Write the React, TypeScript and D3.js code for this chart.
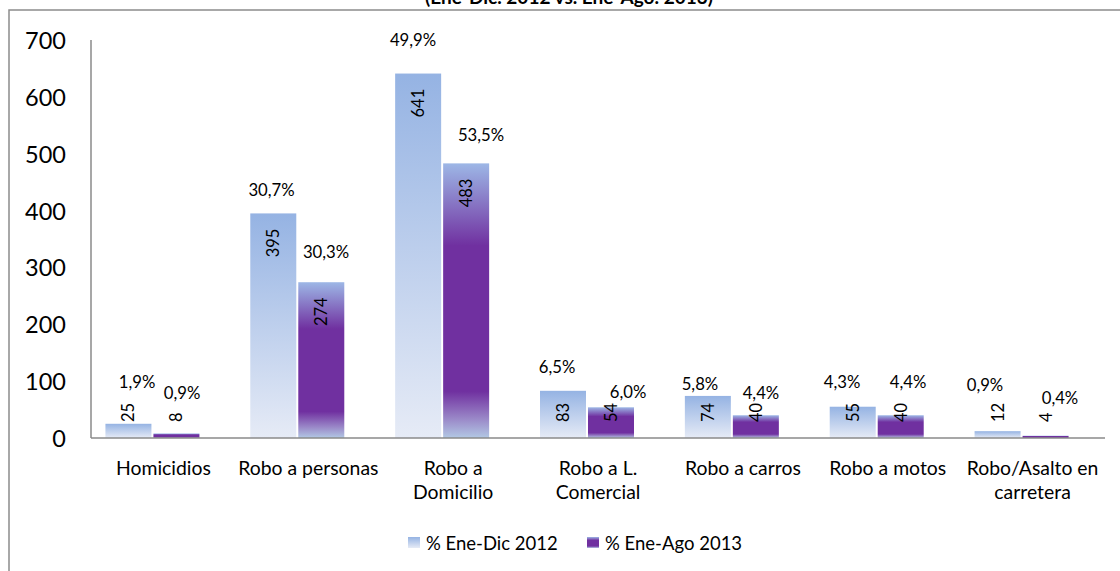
import React from "react";
import * as d3 from "d3";

const categories = [
  ["Homicidios"],
  ["Robo a personas"],
  ["Robo a", "Domicilio"],
  ["Robo a L.", "Comercial"],
  ["Robo a carros"],
  ["Robo a motos"],
  ["Robo/Asalto en", "carretera"],
];
const values2012 = [25, 395, 641, 83, 74, 55, 12];
const values2013 = [8, 274, 483, 54, 40, 40, 4];
const pct2012 = ["1,9%", "30,7%", "49,9%", "6,5%", "5,8%", "4,3%", "0,9%"];
const pct2013 = ["0,9%", "30,3%", "53,5%", "6,0%", "4,4%", "4,4%", "0,4%"];
const seriesNames = ["% Ene-Dic 2012", "% Ene-Ago 2013"];
const yTicks = [0, 100, 200, 300, 400, 500, 600, 700];
const title = "(Ene-Dic. 2012 vs. Ene-Ago. 2013)";

// layout nudges for the manually placed percentage labels (px, relative to bar centre / bar top)
const pctNudge2012 = [[8.6, -41.8], [-1.8, -23.4], [-5.1, -33.5], [-6, -23.8], [-7.9, -11.9], [-10.7, -24.7], [-12.6, -46.2]];
const pctNudge2013 = [[5.6, -40.5], [4.7, -30.2], [14.9, -28.4], [17, -15.3], [5.1, -22.3], [7.3, -33.3], [14.4, -37.7]];

const FONT = "Lato, 'Open Sans', sans-serif";
const W = 1120;
const H = 571;
const left = 91;
const right = 1105;
const top = 40;
const bottom = 438;

export default function App() {
  const x = d3
    .scaleBand<number>()
    .domain(d3.range(categories.length))
    .range([left, right])
    .paddingInner(0)
    .paddingOuter(0);
  const y = d3.scaleLinear().domain([0, 700]).range([bottom, top]);
  const barW = 46;
  const gap = 2;
  const groupShift = -11;
  const barX = (i: number, s: number) => {
    const c = (x(i) as number) + x.bandwidth() / 2 + groupShift;
    return s === 0 ? c - gap / 2 - barW : c + gap / 2;
  };

  const series = [values2012, values2013];
  const pcts = [pct2012, pct2013];
  const nudges = [pctNudge2012, pctNudge2013];
  const fills = ["url(#gBlue)", "url(#gPurple)"];

  return (
    <svg
      width={W}
      height={H}
      style={{ position: "absolute", left: 0, top: 0, background: "#fff" }}
      fontFamily={FONT}
    >
      <defs>
        <linearGradient id="gBlue" x1="0" y1="0" x2="0" y2="1">
          <stop offset="0" stopColor="#95B3E3" />
          <stop offset="1" stopColor="#E6EBF6" />
        </linearGradient>
        <linearGradient id="gPurple" x1="0" y1="0" x2="0" y2="1">
          <stop offset="0" stopColor="#9DB7E6" />
          <stop offset="0.3" stopColor="#7030A0" />
          <stop offset="0.83" stopColor="#7030A0" />
          <stop offset="0.93" stopColor="#9A88C8" />
          <stop offset="1" stopColor="#B2C8E4" />
        </linearGradient>
      </defs>

      {/* outer frame */}
      <rect x={9} y={10} width={W + 20} height={H + 20} fill="none" stroke="#8c8c8c" strokeWidth={1.5} />

      {/* title (cropped at top, as in the reference) */}
      <text x={569} y={4} textAnchor="middle" fontWeight="bold" fontSize={19} fill="#000">
        {title}
      </text>

      {/* y tick labels */}
      {yTicks.map((t) => (
        <text key={t} x={66} y={y(t)} textAnchor="end" dominantBaseline="central" fontSize={23.5} fill="#000">
          {t}
        </text>
      ))}

      {/* bars */}
      {series.map((vals, s) =>
        vals.map((v, i) => (
          <rect
            key={`b${s}-${i}`}
            x={barX(i, s)}
            y={y(v)}
            width={barW}
            height={bottom - y(v)}
            fill={fills[s]}
          />
        ))
      )}

      {/* axes */}
      <line x1={left} x2={left} y1={top} y2={bottom} stroke="#8a8a8a" strokeWidth={1.5} />
      <line x1={left} x2={right} y1={bottom} y2={bottom} stroke="#8a8a8a" strokeWidth={1.5} />

      {/* rotated value labels */}
      {series.map((vals, s) =>
        vals.map((v, i) => {
          const cx = barX(i, s) + barW / 2;
          const label = String(v);
          const len = label.length * 9.3;
          const anchorY = Math.min(y(v) + 16 + len, 422);
          return (
            <text
              key={`v${s}-${i}`}
              transform={`translate(${cx},${anchorY}) rotate(-90)`}
              textAnchor="start"
              dominantBaseline="central"
              fontSize={16.5}
              fill="#000"
            >
              {label}
            </text>
          );
        })
      )}

      {/* percentage labels */}
      {series.map((vals, s) =>
        vals.map((v, i) => {
          const cx = barX(i, s) + barW / 2 + nudges[s][i][0];
          const cy = y(v) + nudges[s][i][1];
          return (
            <text
              key={`p${s}-${i}`}
              x={cx}
              y={cy}
              textAnchor="middle"
              dominantBaseline="central"
              fontSize={16.7}
              fill="#000"
            >
              {pcts[s][i]}
            </text>
          );
        })
      )}

      {/* category labels */}
      {categories.map((lines, i) => (
        <text
          key={`c${i}`}
          x={(x(i) as number) + x.bandwidth() / 2}
          y={467}
          textAnchor="middle"
          dominantBaseline="central"
          fontSize={19.4}
          fill="#000"
        >
          {lines.map((l, k) => (
            <tspan key={k} x={(x(i) as number) + x.bandwidth() / 2} dy={k === 0 ? 0 : 24}>
              {l}
            </tspan>
          ))}
        </text>
      ))}

      {/* legend */}
      {seriesNames.map((name, s) => {
        const lx = s === 0 ? 408 : 587;
        return (
          <g key={`l${s}`}>
            <rect x={lx} y={537} width={12} height={11} fill={fills[s]} />
            <text x={lx + 18} y={543} dominantBaseline="central" fontSize={18.5} fill="#000">
              {name}
            </text>
          </g>
        );
      })}
    </svg>
  );
}
